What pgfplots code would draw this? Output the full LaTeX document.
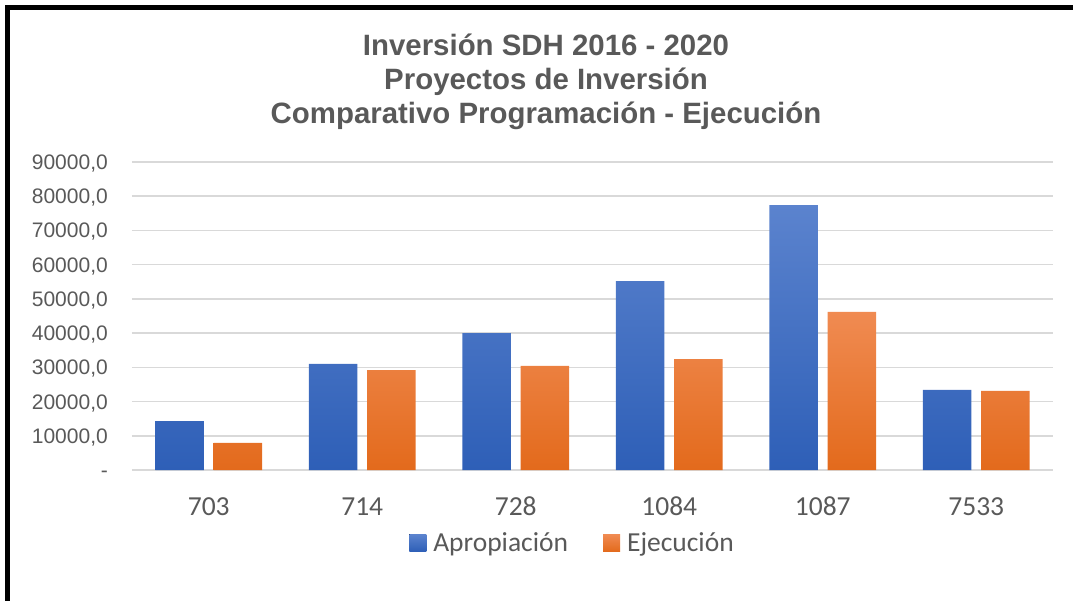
\documentclass[border=0pt]{standalone}
\usepackage{pgfplots}
\pgfplotsset{compat=1.18}
\usepackage{fontspec}
\setmainfont{Liberation Sans}
\newfontfamily\calibri{Carlito}
\definecolor{txt}{HTML}{595959}
\definecolor{gridc}{HTML}{D9D9D9}
\definecolor{bluetop}{HTML}{5B83CE}
\definecolor{bluebot}{HTML}{2E5FB7}
\definecolor{orgtop}{HTML}{F08B52}
\definecolor{orgbot}{HTML}{E36A1C}

\begin{document}
\begin{tikzpicture}
\useasboundingbox (-132bp,-131bp) rectangle (941bp,470bp);
\begin{axis}[
  at={(0,0)}, anchor=south west,
  scale only axis, width=921bp, height=308bp,
  ybar,
  xmin=-0.5, xmax=5.5, ymin=0, ymax=90000,
  enlargelimits=false,
  scaled y ticks=false,
  xtick={0,...,5},
  xticklabels={703,714,728,1084,1087,7533},
  ytick={0,10000,20000,30000,40000,50000,60000,70000,80000,90000},
  yticklabels={-\hspace{12bp},{10000,0},{20000,0},{30000,0},{40000,0},{50000,0},{60000,0},{70000,0},{80000,0},{90000,0}},
  axis line style={draw=none},
  major tick length=0pt,
  tick style={draw=none},
  ymajorgrids,
  grid style={draw=gridc, line width=1.5bp},
  /pgf/number format/assume math mode=true,
  xticklabel style={font=\calibri\fontsize{27.5bp}{32bp}\selectfont, text=txt, anchor=base, inner sep=0pt, yshift=-45bp},
  yticklabel style={font=\fontsize{21bp}{25bp}\selectfont, text=txt, anchor=base east, inner sep=0pt, xshift=-24bp, yshift=-7.5bp},
  legend style={at={(0.481,-0.237)}, anchor=center, draw=none, fill=none,
    legend columns=2, font=\calibri\fontsize{27.5bp}{32bp}\selectfont, text=txt,
    nodes={inner xsep=7bp},
    /tikz/every even column/.append style={column sep=28bp}},
  legend image code/.code={\fill[#1] (0bp,-8.5bp) rectangle (17bp,8.5bp);},
]
\addplot[bar width=0.315, bar shift=-0.19, draw=none, top color=bluetop, bottom color=bluebot]
  coordinates {(0,14300)(1,31000)(2,40000)(3,55200)(4,77400)(5,23400)};
\addlegendentry{Apropiación}
\addplot[bar width=0.315, bar shift=0.19, draw=none, top color=orgtop, bottom color=orgbot]
  coordinates {(0,7900)(1,29200)(2,30400)(3,32400)(4,46200)(5,23100)};
\addlegendentry{Ejecución}
\end{axis}
\node[align=center, font=\bfseries\fontsize{29.4bp}{34bp}\selectfont, text=txt] at (414bp,388bp)
  {Inversión SDH 2016 - 2020\\Proyectos de Inversión\\Comparativo Programación - Ejecución};
\draw[line width=5bp, line join=miter] (-124.5bp,-131bp) -- (-124.5bp,462.5bp) -- (941bp,462.5bp);
\end{tikzpicture}
\end{document}
